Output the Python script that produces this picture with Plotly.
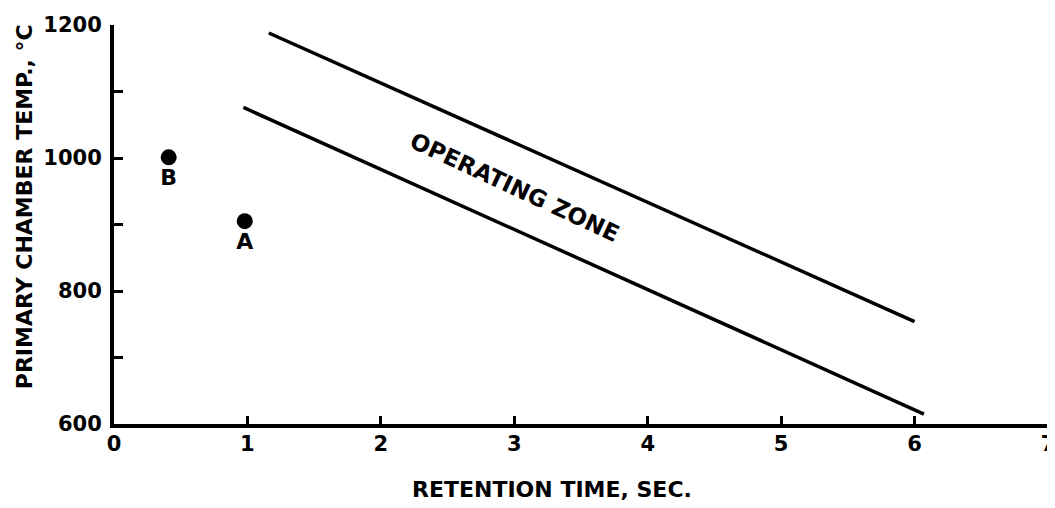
import plotly.graph_objects as go

# Data
upper_x = [1.16, 6.0]
upper_y = [1188, 754]
lower_x = [0.97, 6.07]
lower_y = [1076, 615]
point_labels = ["B", "A"]
point_x = [0.41, 0.98]
point_y = [1001, 905]

x_ticks = [0, 1, 2, 3, 4, 5, 6, 7]
y_ticks = [600, 700, 800, 900, 1000, 1100, 1200]
y_ticktext = ["600", "", "800", "", "1000", "", "1200"]

FONT = "DejaVu Sans"

fig = go.Figure()
fig.add_trace(go.Scatter(x=upper_x, y=upper_y, mode="lines",
                         line=dict(color="black", width=3.5), showlegend=False))
fig.add_trace(go.Scatter(x=lower_x, y=lower_y, mode="lines",
                         line=dict(color="black", width=3.5), showlegend=False))
fig.add_trace(go.Scatter(x=point_x, y=point_y, mode="markers+text",
                         marker=dict(color="black", size=16),
                         text=point_labels, textposition="bottom center",
                         textfont=dict(family=FONT, size=22, color="black", weight="bold"),
                         showlegend=False))

fig.add_annotation(x=3.0, y=956, text="OPERATING ZONE", showarrow=False,
                   textangle=25,
                   font=dict(family=FONT, size=23, color="black", weight="bold"))

# axis titles placed as annotations
fig.add_annotation(xref="paper", yref="paper", x=0.469, y=-0.165,
                   text="RETENTION TIME, SEC.", showarrow=False,
                   xanchor="center", yanchor="middle",
                   font=dict(family=FONT, size=22, color="black", weight="bold"))
fig.add_annotation(xref="paper", yref="paper", x=-0.095, y=0.544,
                   text="PRIMARY CHAMBER TEMP., °C", showarrow=False, textangle=-90,
                   xanchor="center", yanchor="middle",
                   font=dict(family=FONT, size=22, color="black", weight="bold"))

fig.update_layout(
    width=1047, height=500,
    template="none",
    paper_bgcolor="white", plot_bgcolor="white",
    margin=dict(l=106, r=7, t=17, b=84),
    xaxis=dict(range=[0, 7], tickvals=x_ticks, ticktext=[str(v) for v in x_ticks],
               showgrid=False, zeroline=False, showline=True, linecolor="black",
               linewidth=4, ticks="inside", ticklen=8, tickwidth=3, tickcolor="black",
               automargin=False, ticklabelstandoff=-2, ticklabeloverflow="allow",
               tickfont=dict(family=FONT, size=21, color="black", weight="bold")),
    yaxis=dict(range=[600, 1200], tickvals=y_ticks, ticktext=y_ticktext,
               showgrid=False, zeroline=False, showline=True, linecolor="black",
               linewidth=4, ticks="inside", ticklen=9, tickwidth=3, tickcolor="black",
               automargin=False, ticklabelstandoff=4,
               tickfont=dict(family=FONT, size=21, color="black", weight="bold")),
)

fig.write_html("out.html")
